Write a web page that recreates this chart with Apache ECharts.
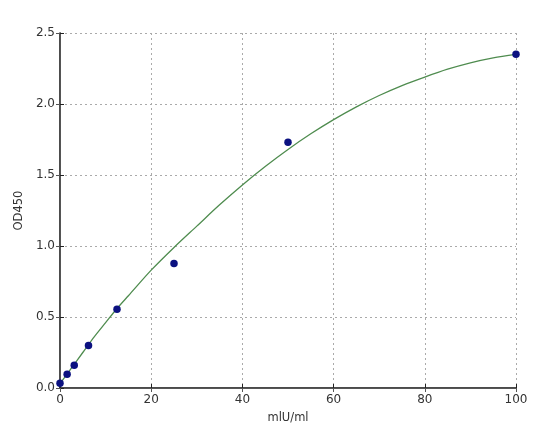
<!DOCTYPE html>
<html>
<head>
<meta charset="utf-8">
<script src="https://cdn.jsdelivr.net/npm/echarts@6/dist/echarts.min.js"></script>
<style>
html,body{margin:0;padding:0;background:#fff;}
#c{width:548px;height:438px;}
</style>
</head>
<body>
<div id="c"></div>
<script>
// Standard points (concentration, OD450)
const pointX = [0, 1.5625, 3.125, 6.25, 12.5, 25, 50, 100];
const pointY = [0.033, 0.097, 0.16, 0.30, 0.554, 0.877, 1.73, 2.35];
// Fitted curve
const curveX = [0, 2.5, 5, 7.5, 10, 12.5, 15, 20, 25, 30, 35, 40, 45, 50, 55, 60, 65, 70, 75, 80, 85, 90, 95, 100];
const curveY = [0.03, 0.14, 0.25, 0.36, 0.46, 0.56, 0.65, 0.83, 0.99, 1.14, 1.29, 1.43, 1.56, 1.68, 1.79, 1.89, 1.98, 2.06, 2.13, 2.19, 2.245, 2.29, 2.325, 2.35];
const xTicks = [0, 20, 40, 60, 80, 100];
const yTicks = [0.0, 0.5, 1.0, 1.5, 2.0, 2.5];

const font = 'DejaVu Sans';
const chart = echarts.init(document.getElementById('c'));
const axisLine = {show: true, lineStyle: {color: '#111', width: 1.5}};
const split = {show: true, lineStyle: {type: [2, 3], color: '#aaa', width: 1}};
chart.setOption({
  animation: false,
  backgroundColor: '#fff',
  grid: {left: 60, right: 32, top: 33, bottom: 50},
  xAxis: [{
    type: 'value', min: 0, max: 100, interval: 20,
    name: 'mlU/ml', nameLocation: 'middle', nameGap: 24,
    nameTextStyle: {fontFamily: font, fontSize: 11.5, color: '#333'},
    axisLine: axisLine,
    axisTick: {show: true, inside: true, length: 4, lineStyle: {color: '#222'}},
    axisLabel: {fontFamily: font, fontSize: 12, color: '#333', margin: 6,
      formatter: v => xTicks.includes(v) ? String(v) : ''},
    splitLine: split
  }, {
    type: 'value', min: 0, max: 100, interval: 20, position: 'top',
    axisLine: {show: true, lineStyle: {color: '#555', width: 1}},
    axisTick: {show: true, inside: true, length: 4, lineStyle: {color: '#555'}},
    axisLabel: {show: false}, splitLine: {show: false}
  }],
  yAxis: [{
    type: 'value', min: 0, max: 2.5, interval: 0.5,
    name: 'OD450', nameLocation: 'middle', nameGap: 27, nameRotate: 90,
    nameTextStyle: {fontFamily: font, fontSize: 11.5, color: '#333'},
    axisLine: axisLine,
    axisTick: {show: true, inside: true, length: 4, lineStyle: {color: '#222'}},
    axisLabel: {fontFamily: font, fontSize: 12, color: '#333', margin: 5,
      formatter: v => yTicks.some(t => Math.abs(t - v) < 1e-9) ? v.toFixed(1) : ''},
    splitLine: split
  }, {
    type: 'value', min: 0, max: 2.5, interval: 0.5, position: 'right',
    axisLine: {show: true, lineStyle: {color: '#555', width: 1}},
    axisTick: {show: true, inside: true, length: 4, lineStyle: {color: '#555'}},
    axisLabel: {show: false}, splitLine: {show: false}
  }],
  series: [{
    type: 'line',
    data: curveX.map((x, i) => [x, curveY[i]]),
    smooth: 0.3, showSymbol: false,
    lineStyle: {color: '#4f8c4f', width: 1.3},
    z: 2
  }, {
    type: 'scatter',
    data: pointX.map((x, i) => [x, pointY[i]]),
    symbol: 'circle', symbolSize: 7.5,
    itemStyle: {color: '#0b1180', opacity: 1},
    clip: false,
    z: 3
  }]
});
</script>
</body>
</html>
